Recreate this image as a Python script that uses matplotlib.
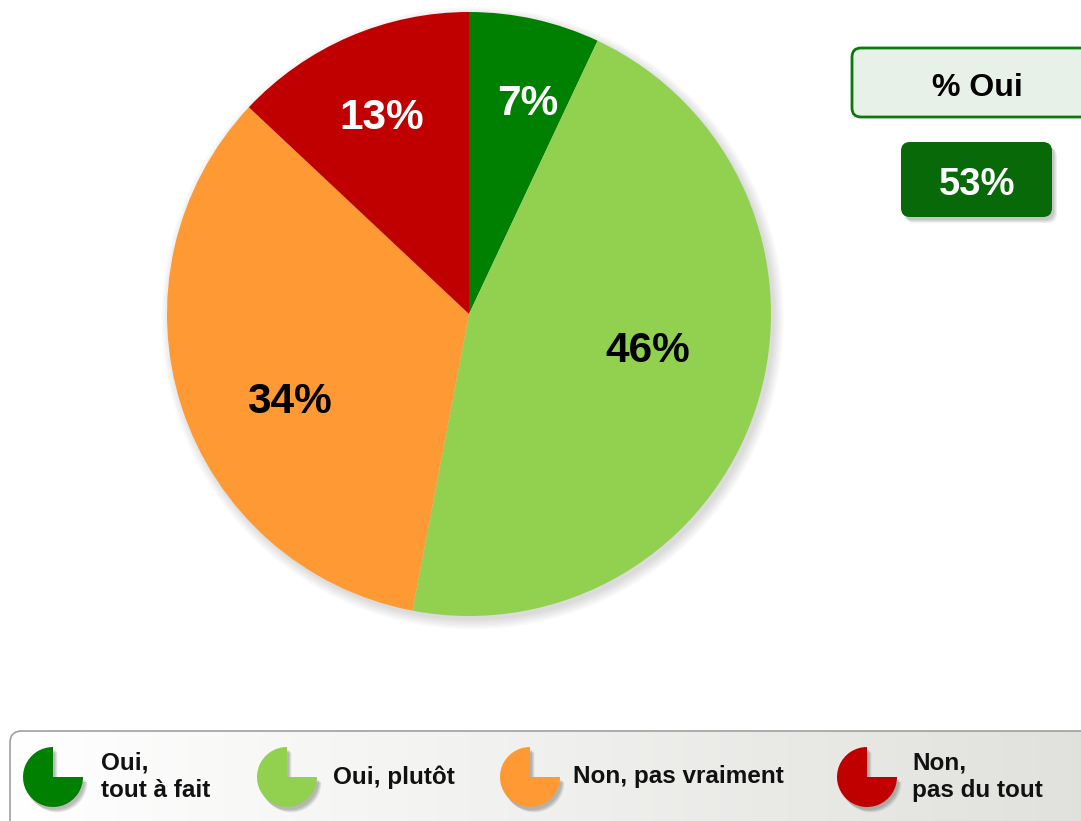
import numpy as np
import matplotlib.pyplot as plt
from matplotlib.patches import FancyBboxPatch, Wedge, Circle
from matplotlib.colors import LinearSegmentedColormap

plt.rcParams['font.family'] = ['Liberation Sans', 'DejaVu Sans']

# data
categories = ['Oui,\ntout à fait', 'Oui, plutôt', 'Non, pas vraiment', 'Non,\npas du tout']
values = [7, 46, 34, 13]
colors = ['#008000', '#92D050', '#FF9933', '#C00000']
label_colors = ['white', 'black', 'black', 'white']
label_dist = [0.735, 0.603, 0.655, 0.724]
label_shift = [2.8, -7.6, -7.1, 0.0]   # degrees, clockwise from wedge middle
oui_total = 53

W, H = 1081, 821
fig = plt.figure(figsize=(W / 100, H / 100), dpi=100)
fig.patch.set_facecolor('white')

# background / decoration axes in pixel coordinates
bg = fig.add_axes([0, 0, 1, 1])
bg.axis('off')

# pie axes
cx, cy, r = 469, 314, 302
pax = fig.add_axes([(cx - r) / W, (H - cy - r) / H, 2 * r / W, 2 * r / H])

# soft shadow behind the pie
for k in range(6):
    pax.add_patch(Circle((0.012, -0.014), 1.0 + 0.006 * k, color='black',
                         alpha=0.025, lw=0, zorder=0, clip_on=False))

wedges, _ = pax.pie(values, colors=colors, startangle=90, counterclock=False,
                    radius=1.0, wedgeprops=dict(linewidth=0))
for w in wedges:
    w.set_zorder(2)
    w.set_clip_on(False)
pax.set_xlim(-1, 1)
pax.set_ylim(-1, 1)
pax.set_aspect('equal')
pax.axis('off')

for w, v, c, d, s in zip(wedges, values, label_colors, label_dist, label_shift):
    ang = np.deg2rad((w.theta1 + w.theta2) / 2 - s)
    pax.text(d * np.cos(ang), d * np.sin(ang), f'{v}%', ha='center',
             va='center_baseline', fontsize=30.5, fontweight='bold', color=c, zorder=3)

# "% Oui" header box
bg.add_patch(FancyBboxPatch((852, 48), 260, 69,
                            boxstyle='round,pad=0,rounding_size=9',
                            fc='#E8F1E8', ec='#0B7A0B', lw=2))
bg.text(977, 84, '% Oui', ha='center', va='center_baseline', fontsize=23,
        fontweight='bold', color='black')

# "53%" value box with shadow
for k in range(4):
    bg.add_patch(FancyBboxPatch((901 + 2 + k, 142 + 3 + k), 151, 75,
                                boxstyle='round,pad=0,rounding_size=9',
                                fc='black', ec='none', alpha=0.06))
bg.add_patch(FancyBboxPatch((901, 142), 151, 75,
                            boxstyle='round,pad=0,rounding_size=9',
                            fc='#076907', ec='none'))
bg.text(977, 181, f'{oui_total}%', ha='center', va='center_baseline', fontsize=27.5,
        fontweight='bold', color='white')

# legend box with horizontal gradient
leg = FancyBboxPatch((10, 731), 1100, 110,
                     boxstyle='round,pad=0,rounding_size=12',
                     fc='none', ec='#A0A0A0', lw=1.2, zorder=2)
bg.add_patch(leg)
grad = np.linspace(0, 1, 256).reshape(1, -1)
img = bg.imshow(grad, extent=(10, 1110, 841, 731), aspect='auto',
                cmap=LinearSegmentedColormap.from_list('g', ['#FFFFFF', '#E0E0DC']),
                zorder=1)
img.set_clip_path(leg)
bg.set_xlim(0, W)
bg.set_ylim(H, 0)

icon_x = [53, 287, 530, 867]
text_x = [101, 333, 573, 912]
icon_y, icon_r = 777, 30
for ix, tx, col, lab in zip(icon_x, text_x, colors, categories):
    for k in range(4):
        bg.add_patch(Wedge((ix + 2 + k * 0.8, icon_y + 3 + k * 0.8), icon_r, 0, 270,
                           fc='black', ec='none', alpha=0.07, zorder=3))
    # y axis inverted: angles 0..270 leave the top-right quadrant open
    bg.add_patch(Wedge((ix, icon_y), icon_r, 0, 270, fc=col, ec='none', zorder=4))
    bg.text(tx, icon_y, lab, ha='left', va='center', fontsize=17.5,
            fontweight='bold', color='#111111', linespacing=1.25, zorder=5)

fig.savefig('out.png', dpi=100)
